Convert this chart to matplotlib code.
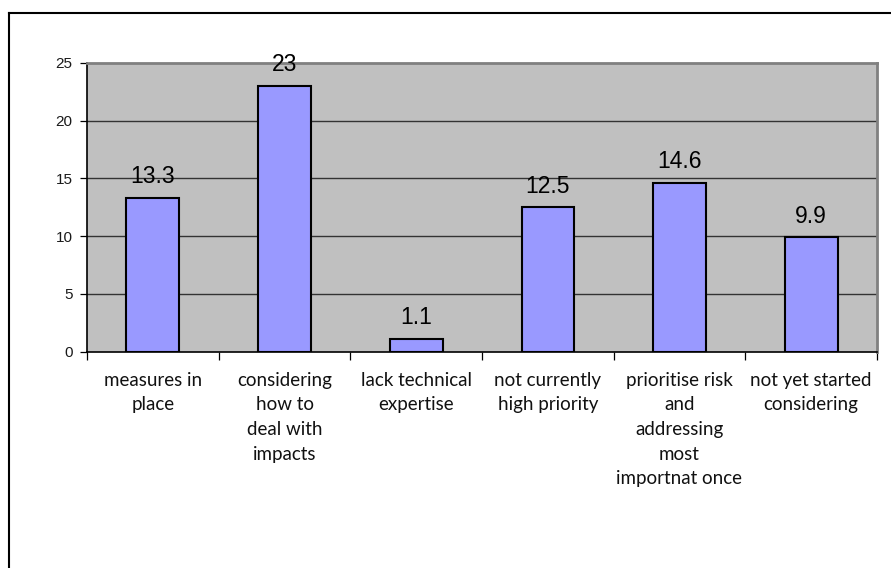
import matplotlib
matplotlib.use("Agg")
import matplotlib.pyplot as plt
from matplotlib.lines import Line2D

categories = ["measures in\nplace", "considering\nhow to\ndeal with\nimpacts",
              "lack technical\nexpertise", "not currently\nhigh priority",
              "prioritise risk\nand\naddressing\nmost\nimportnat once",
              "not yet started\nconsidering"]
values = [13.3, 23, 1.1, 12.5, 14.6, 9.9]
value_labels = ["13.3", "23", "1.1", "12.5", "14.6", "9.9"]
yticks = [0, 5, 10, 15, 20, 25]

W, H = 891, 568
fig = plt.figure(figsize=(W / 100, H / 100), dpi=100)
ax = fig.add_axes([87 / W, 1 - 351.5 / H, (877 - 87) / W, (351.5 - 63) / H])
ax.set_facecolor("#C0C0C0")

x = list(range(len(values)))
ax.bar(x, values, width=0.4, color="#9999FF", edgecolor="black", linewidth=1.5, zorder=3)
ax.set_xlim(-0.5, len(values) - 0.5)
ax.set_ylim(0, 25)
ax.set_yticks(yticks)
ax.set_yticklabels([str(t) for t in yticks], fontsize=11, family="Liberation Sans", color="#1a1a1a")
for t in yticks[1:-1]:
    ax.axhline(t, color="#333333", linewidth=1.0, zorder=1)

ax.set_xticks([i - 0.5 for i in range(len(values) + 1)])
ax.set_xticklabels([])
ax.tick_params(axis="x", direction="out", length=6, width=0.9, color="black")
ax.tick_params(axis="y", direction="out", length=5, width=0.9, color="black", pad=5.5)
for i, c in enumerate(categories):
    ax.text(i, -1.75, c, ha="center", va="top", fontsize=13.5, family="Lato",
            linespacing=1.55, color="#111111")

for i, (v, lab) in enumerate(zip(values, value_labels)):
    ax.annotate(lab, (i, v), xytext=(0, 10.5), textcoords="offset points",
                ha="center", va="baseline", fontsize=16.5, family="Liberation Sans")

for s in ["top", "right"]:
    ax.spines[s].set_color("#808080")
    ax.spines[s].set_linewidth(2)
for s in ["left", "bottom"]:
    ax.spines[s].set_color("black")
    ax.spines[s].set_linewidth(1.2)

fig.add_artist(Line2D([9 / W, 9 / W], [0, 1 - 12.5 / H], color="black", linewidth=1.5, transform=fig.transFigure))
fig.add_artist(Line2D([9 / W, 1], [1 - 12.5 / H, 1 - 12.5 / H], color="black", linewidth=1.5, transform=fig.transFigure))

fig.savefig("out.png", dpi=100)
